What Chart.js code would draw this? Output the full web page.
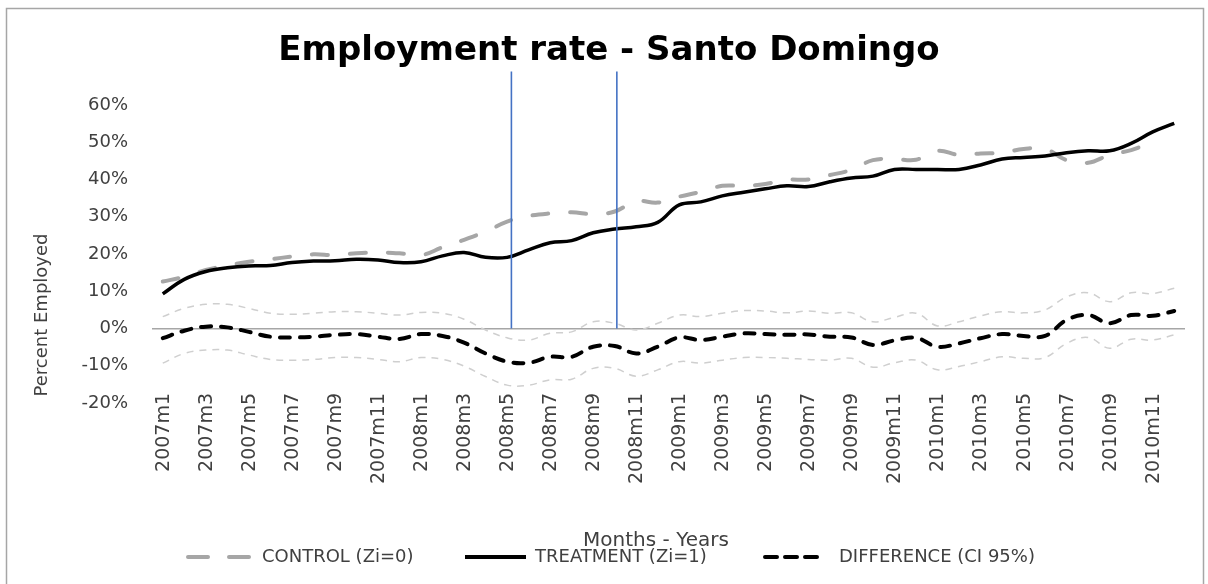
<!DOCTYPE html>
<html>
<head>
<meta charset="utf-8">
<script src="https://cdn.jsdelivr.net/npm/chart.js@4.4.1/dist/chart.umd.min.js"></script>
<style>
  html, body { margin: 0; padding: 0; background: #ffffff; }
  #wrap { width: 1208px; height: 584px; position: relative; }
</style>
</head>
<body>
<div id="wrap"><canvas id="c" width="1208" height="584"></canvas></div>
<script>
const months = [
  "2007m1","2007m2","2007m3","2007m4","2007m5","2007m6","2007m7","2007m8","2007m9","2007m10","2007m11","2007m12",
  "2008m1","2008m2","2008m3","2008m4","2008m5","2008m6","2008m7","2008m8","2008m9","2008m10","2008m11","2008m12",
  "2009m1","2009m2","2009m3","2009m4","2009m5","2009m6","2009m7","2009m8","2009m9","2009m10","2009m11","2009m12",
  "2010m1","2010m2","2010m3","2010m4","2010m5","2010m6","2010m7","2010m8","2010m9","2010m10","2010m11","2010m12"
];

const yTicks = [-20, -10, 0, 10, 20, 30, 40, 50, 60];

const control = [
  12.6, 13.9, 15.7, 16.9, 17.9, 18.6, 19.3, 19.9, 19.7, 20.2, 20.4, 20.2,
  19.7, 21.8, 23.8, 26.0, 28.7, 30.2, 30.9, 31.2, 30.7, 31.4, 34.2, 33.8,
  35.4, 36.7, 38.3, 38.3, 38.8, 39.9, 40.0, 41.2, 42.6, 45.2, 45.5, 45.3,
  47.7, 46.6, 47.0, 47.2, 48.2, 48.2, 45.2, 44.5, 46.6, 47.9, 50.2, null
];

const treatment = [
  9.3, 13.2, 15.3, 16.3, 16.8, 16.9, 17.7, 18.1, 18.2, 18.6, 18.4, 17.7,
  17.9, 19.5, 20.4, 19.1, 19.1, 21.1, 23.0, 23.6, 25.7, 26.7, 27.3, 28.5,
  33.2, 34.0, 35.6, 36.6, 37.5, 38.3, 38.1, 39.4, 40.4, 40.9, 42.7, 42.7,
  42.7, 42.7, 43.9, 45.5, 45.9, 46.3, 47.2, 47.7, 47.7, 49.7, 52.8, 55.1
];

const difference = [
  -2.6, -0.6, 0.5, 0.3, -0.9, -2.2, -2.4, -2.2, -1.7, -1.5, -2.2, -2.8,
  -1.5, -2.0, -3.8, -6.7, -8.9, -9.2, -7.6, -7.6, -4.9, -4.7, -6.7, -4.9,
  -2.4, -3.1, -2.2, -1.3, -1.5, -1.7, -1.6, -2.2, -2.4, -4.4, -3.2, -2.5,
  -4.9, -4.0, -2.6, -1.5, -2.0, -2.0, 2.3, 3.6, 1.4, 3.6, 3.4, 4.7
];

const ciUpper = [
  3.2, 5.4, 6.5, 6.5, 5.4, 4.1, 3.8, 4.1, 4.5, 4.5, 4.1, 3.6,
  4.3, 4.1, 2.5, -0.4, -2.5, -3.1, -1.3, -0.9, 1.8, 1.4, -0.4, 1.4,
  3.6, 3.2, 4.1, 4.8, 4.7, 4.2, 4.7, 4.1, 4.2, 1.8, 3.0, 4.1,
  0.7, 1.8, 3.4, 4.5, 4.2, 5.0, 8.5, 9.6, 7.2, 9.6, 9.4, 10.8
];

const ciLower = [
  -9.3, -6.7, -5.8, -5.8, -7.1, -8.3, -8.5, -8.3, -7.8, -7.8, -8.3, -8.9,
  -7.8, -8.3, -10.1, -12.9, -15.2, -15.2, -13.8, -13.6, -10.7, -10.7, -12.8, -11.1,
  -8.9, -9.3, -8.5, -7.8, -7.8, -8.0, -8.3, -8.5, -8.0, -10.4, -9.2, -8.5,
  -11.1, -10.2, -8.9, -7.6, -8.0, -7.8, -4.0, -2.4, -5.3, -2.9, -3.1, -1.7
];

// event markers (month index on the category axis) and their top value (%)
const eventMonths = [16.2, 21.1];
const eventTop = 69;

const legendItems = [
  { text: "CONTROL (Zi=0)", color: "#a6a6a6", dash: [20, 21], x0: 188, x1: 249, tx: 262 },
  { text: "TREATMENT (Zi=1)", color: "#000000", dash: [], x0: 465, x1: 526, tx: 535 },
  { text: "DIFFERENCE (CI 95%)", color: "#000000", dash: [12, 8], x0: 765, x1: 818, tx: 839 }
];

const FONT = "'DejaVu Sans', Verdana, sans-serif";
const TITLE = "Employment rate - Santo Domingo";

const decor = {
  id: 'decor',
  afterDatasetsDraw(chart) {
    const ctx = chart.ctx;
    const xs = chart.scales.x, ys = chart.scales.y;
    ctx.save();
    ctx.strokeStyle = '#4472c4';
    ctx.lineWidth = 1.6;
    eventMonths.forEach(m => {
      const x = xs.getPixelForValue(m);
      ctx.beginPath();
      ctx.moveTo(x, ys.getPixelForValue(0));
      ctx.lineTo(x, ys.getPixelForValue(eventTop));
      ctx.stroke();
    });
    ctx.restore();
  },
  afterDraw(chart) {
    const ctx = chart.ctx;
    const xs = chart.scales.x;
    ctx.save();
    // frame
    ctx.strokeStyle = '#a6a6a6';
    ctx.lineWidth = 1.5;
    ctx.strokeRect(6.5, 8.5, 1197, 640);

    // title
    ctx.fillStyle = '#000000';
    ctx.font = "bold 34px " + FONT;
    ctx.textAlign = 'center';
    ctx.textBaseline = 'middle';
    ctx.fillText(TITLE, 609, 51);

    // x tick labels (every other month), rotated
    ctx.fillStyle = '#404040';
    ctx.font = "19px " + FONT;
    months.forEach((m, i) => {
      if (i % 2 !== 0) return;
      ctx.save();
      ctx.translate(xs.getPixelForValue(i) + 1, 393);
      ctx.rotate(-Math.PI / 2);
      ctx.textAlign = 'right';
      ctx.textBaseline = 'middle';
      ctx.fillText(m, 0, 0);
      ctx.restore();
    });

    // y axis title
    ctx.font = "18px " + FONT;
    ctx.textAlign = 'center';
    ctx.textBaseline = 'middle';
    ctx.save();
    ctx.translate(42, 315);
    ctx.rotate(-Math.PI / 2);
    ctx.fillText("Percent Employed", 0, 0);
    ctx.restore();

    // x axis title
    ctx.font = "20px " + FONT;
    ctx.fillText("Months - Years", 656, 541);

    // legend
    ctx.font = "18px " + FONT;
    ctx.textAlign = 'left';
    legendItems.forEach(it => {
      ctx.save();
      ctx.strokeStyle = it.color;
      ctx.lineWidth = 4;
      ctx.lineCap = it.dash.length ? 'round' : 'butt';
      ctx.setLineDash(it.dash);
      ctx.beginPath();
      ctx.moveTo(it.x0, 557);
      ctx.lineTo(it.x1, 557);
      ctx.stroke();
      ctx.restore();
      ctx.fillStyle = '#404040';
      ctx.fillText(it.text, it.tx, 557);
    });
    ctx.restore();
  }
};

const common = { pointRadius: 0, pointHoverRadius: 0, fill: false, tension: 0.4, spanGaps: false };

new Chart(document.getElementById('c'), {
  type: 'line',
  data: {
    labels: months,
    datasets: [
      Object.assign({ label: 'TREATMENT (Zi=1)', data: treatment, borderColor: '#000000', borderWidth: 3.5 }, common),
      Object.assign({ label: 'DIFFERENCE (CI 95%)', data: difference, borderColor: '#000000', borderWidth: 4,
        borderDash: [10, 10], borderCapStyle: 'round' }, common),
      Object.assign({ label: 'CONTROL (Zi=0)', data: control, borderColor: '#a6a6a6', borderWidth: 4,
        borderDash: [16, 22], borderCapStyle: 'round' }, common),
      Object.assign({ label: 'CI upper', data: ciUpper, borderColor: '#cfcfcf', borderWidth: 1.5,
        borderDash: [7, 6] }, common),
      Object.assign({ label: 'CI lower', data: ciLower, borderColor: '#cfcfcf', borderWidth: 1.5,
        borderDash: [7, 6] }, common)
    ]
  },
  options: {
    responsive: false,
    animation: false,
    devicePixelRatio: 1,
    layout: { padding: { left: 0, right: 23, top: 105, bottom: 0 } },
    plugins: {
      legend: { display: false },
      tooltip: { enabled: false },
      title: { display: false }
    },
    scales: {
      x: {
        type: 'category',
        offset: true,
        grid: { display: false, drawTicks: false },
        border: { display: false },
        ticks: { display: false },
        afterFit(scale) { scale.height = 181; }
      },
      y: {
        min: yTicks[0],
        max: yTicks[yTicks.length - 1],
        afterBuildTicks(scale) { scale.ticks = yTicks.map(v => ({ value: v })); },
        grid: {
          drawTicks: false,
          color: c => (c.tick && c.tick.value === 0) ? '#a6a6a6' : 'rgba(0,0,0,0)',
          lineWidth: 1.5
        },
        border: { display: false },
        ticks: {
          padding: 24,
          color: '#404040',
          font: { family: FONT, size: 18 },
          callback: v => v + '%'
        },
        afterFit(scale) { scale.width = 152; }
      }
    }
  },
  plugins: [decor]
});
</script>
</body>
</html>
